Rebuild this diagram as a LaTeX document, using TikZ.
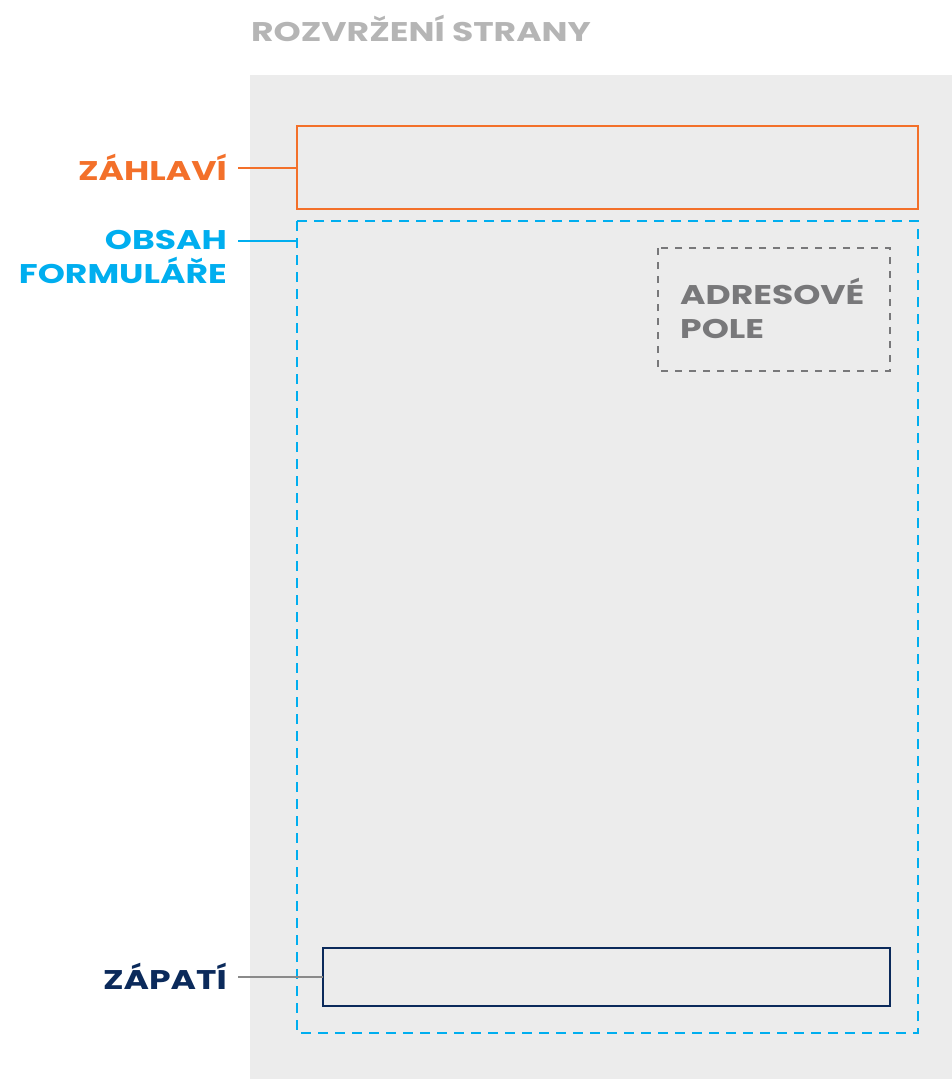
\documentclass[tikz,border=0pt]{standalone}
\usepackage{fontspec}
\setmainfont{Poppins}[UprightFont=* Bold, BoldFont=* Bold, FakeStretch=1.28]
\definecolor{pagegray}{HTML}{ECECEC}
\definecolor{orangec}{HTML}{F3702A}
\definecolor{bluec}{HTML}{00AEEF}
\definecolor{navyc}{HTML}{0B2A5B}
\definecolor{midgray}{HTML}{78787A}
\definecolor{titlegray}{HTML}{B5B5B5}
\definecolor{linegray}{HTML}{8A8A8A}
\begin{document}
\begin{tikzpicture}[x=1pt,y=-1pt,
  lbl/.style={anchor=east,align=right,font=\fontsize{27}{34}\selectfont,inner sep=0pt},
  leader/.style={line width=1.3pt}]
\useasboundingbox (0,0) rectangle (952,1079);
\fill[pagegray] (250,75) rectangle (952,1079);
\node[anchor=west,inner sep=0pt,text=titlegray,font=\fontsize{27}{32}\selectfont] (title) at (251,28) {ROZVRŽENÍ STRANY};
% boxes
\draw[orangec,line width=2.2pt] (297,126) rectangle (918,209);
\coordinate (hdrL) at (297,168);
\draw[bluec,line width=2.2pt,dash pattern=on 10pt off 7pt] (297,221) rectangle (918,1033);
\coordinate (bodyL) at (297,241);
\draw[midgray,line width=2.2pt,dash pattern=on 7pt off 7pt] (658,248) rectangle (890,371);
\node[anchor=north west,align=left,inner sep=0pt,text=midgray,font=\fontsize{27}{34}\selectfont] (addr) at (680,278) {ADRESOVÉ\\POLE};
\draw[navyc,line width=2.2pt] (323,948) rectangle (890,1006);
\coordinate (ftrL) at (323,977);
% labels
\node[lbl,text=orangec] (zah) at (227,167) {ZÁHLAVÍ};
\node[lbl,text=bluec,anchor=north east] (obs) at (227,230) {OBSAH\\FORMULÁŘE};
\node[lbl,text=navyc] (zap) at (227,976) {ZÁPATÍ};
\coordinate (obsR) at (238,241);
\draw[leader,orangec] (zah.east) ++(11,1) -- (hdrL);
\draw[leader,bluec] (obsR) -- (bodyL);
\draw[leader,linegray] (zap.east) ++(11,1) -- (ftrL);
\end{tikzpicture}
\end{document}
